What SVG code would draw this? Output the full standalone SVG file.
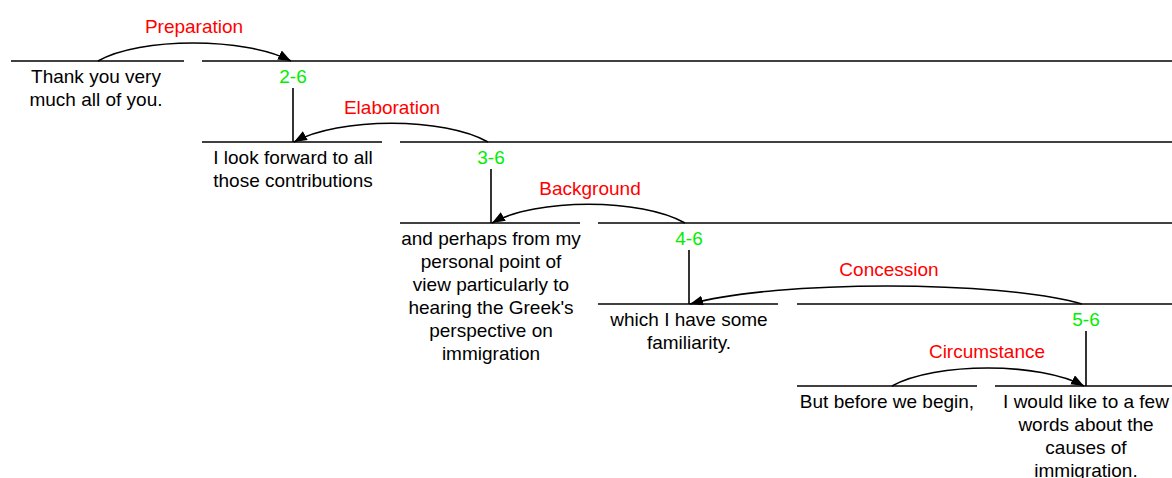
<svg xmlns="http://www.w3.org/2000/svg" width="1172" height="478" viewBox="0 0 1172 478">
<defs>
<style>
.seg{stroke:#000;stroke-width:1.6;fill:none}
.arc{stroke:#000;stroke-width:1.6;fill:none;marker-end:url(#ah)}
.t{font-family:"Liberation Sans",Arial,sans-serif;font-size:19px;fill:#000;text-anchor:middle}
.rel{font-family:"Liberation Sans",Arial,sans-serif;font-size:19px;fill:#ff0000;text-anchor:middle}
.num{font-family:"Liberation Sans",Arial,sans-serif;font-size:19px;fill:#00ee00;text-anchor:middle}
</style>
<marker id="ah" markerUnits="userSpaceOnUse" markerWidth="16" markerHeight="12" refX="13" refY="5" orient="auto">
<path d="M0,0 L13,5 L0,10 Z" fill="#000"/>
</marker>
</defs>
<rect width="1172" height="478" fill="#fff"/>
<g id="n1">
<line class="seg" x1="11" y1="61" x2="184" y2="61"/>
<text class="t" x="96" y="83">Thank you very</text>
<text class="t" x="96" y="106">much all of you.</text>
</g>
<g id="n2-6">
<line class="seg" x1="202" y1="61" x2="1172" y2="61"/>
<text class="num" x="293" y="83">2-6</text>
<line class="seg" x1="293" y1="88" x2="293" y2="142"/>
</g>
<g id="n2">
<line class="seg" x1="202" y1="142" x2="382" y2="142"/>
<text class="t" x="293" y="164">I look forward to all</text>
<text class="t" x="293" y="187">those contributions</text>
</g>
<g id="n3-6">
<line class="seg" x1="400" y1="142" x2="1172" y2="142"/>
<text class="num" x="491" y="164">3-6</text>
<line class="seg" x1="491" y1="169" x2="491" y2="223"/>
</g>
<g id="n3">
<line class="seg" x1="400" y1="223" x2="580" y2="223"/>
<text class="t" x="491" y="245">and perhaps from my</text>
<text class="t" x="491" y="268">personal point of</text>
<text class="t" x="491" y="291">view particularly to</text>
<text class="t" x="491" y="314">hearing the Greek's</text>
<text class="t" x="491" y="337">perspective on</text>
<text class="t" x="491" y="360">immigration</text>
</g>
<g id="n4-6">
<line class="seg" x1="598" y1="223" x2="1172" y2="223"/>
<text class="num" x="689" y="245">4-6</text>
<line class="seg" x1="689" y1="250" x2="689" y2="304"/>
</g>
<g id="n4">
<line class="seg" x1="598" y1="304" x2="778" y2="304"/>
<text class="t" x="689" y="326">which I have some</text>
<text class="t" x="689" y="349">familiarity.</text>
</g>
<g id="n5-6">
<line class="seg" x1="797" y1="304" x2="1172" y2="304"/>
<text class="num" x="1086" y="326">5-6</text>
<line class="seg" x1="1086" y1="331" x2="1086" y2="386"/>
</g>
<g id="n5">
<line class="seg" x1="797" y1="386" x2="977" y2="386"/>
<text class="t" x="887" y="408">But before we begin,</text>
</g>
<g id="n6">
<line class="seg" x1="995" y1="386" x2="1172" y2="386"/>
<text class="t" x="1086" y="408">I would like to a few</text>
<text class="t" x="1086" y="431">words about the</text>
<text class="t" x="1086" y="454">causes of</text>
<text class="t" x="1086" y="477">immigration.</text>
</g>
<g id="connectors">
<path class="arc" d="M98,61 C140,37 245,37 291,61"/>
<text class="rel" x="194" y="33">Preparation</text>
<path class="arc" d="M488,142 C445,117 338,117 294,142"/>
<text class="rel" x="392" y="114">Elaboration</text>
<path class="arc" d="M685,223 C642,198 535,198 492,223"/>
<text class="rel" x="590" y="195">Background</text>
<path class="arc" d="M1082,304 C1000,280 775,280 690,304"/>
<text class="rel" x="889" y="276">Concession</text>
<path class="arc" d="M892,386 C935,362 1040,362 1084,386"/>
<text class="rel" x="987" y="358">Circumstance</text>
</g>
</svg>
